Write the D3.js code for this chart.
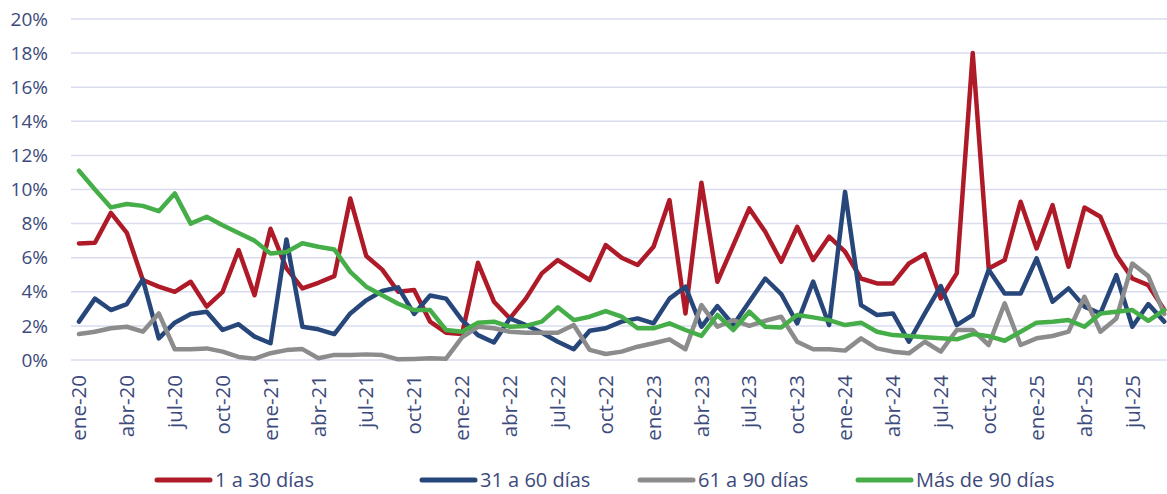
<!DOCTYPE html>
<html>
<head>
<meta charset="utf-8">
<script src="https://cdn.jsdelivr.net/npm/d3@7"></script>
<style>
  body { margin: 0; background: #fff; }
  svg { display: block; font-family: "Open Sans", sans-serif; }
</style>
</head>
<body>
<div id="chart"></div>
<script>
const monthNames = ['ene', 'feb', 'mar', 'abr', 'may', 'jun', 'jul', 'ago', 'sep', 'oct', 'nov', 'dic'];
const years = ['20', '21', '22', '23', '24', '25'];
// ene-20 ... sep-25
const months = [];
years.forEach(y => monthNames.forEach(m => months.push(`${m}-${y}`)));
months.splice(69);

const yTicks = [0, 2, 4, 6, 8, 10, 12, 14, 16, 18, 20];

const seriesNames = ['1 a 30 días', '31 a 60 días', '61 a 90 días', 'Más de 90 días'];
const seriesColors = ['#ae1a28', '#27467a', '#8c8c8c', '#46ae48'];

const d1a30 = [
  6.84, 6.88, 8.63, 7.46, 4.69, 4.3, 4.0, 4.59, 3.13, 4.0, 6.45, 3.8,
  7.7, 5.37, 4.2, 4.53, 4.92, 9.47, 6.1, 5.3, 4.0, 4.1, 2.25, 1.6,
  1.52, 5.7, 3.42, 2.44, 3.6, 5.08, 5.86, 5.27, 4.69, 6.74, 6.0, 5.57,
  6.64, 9.38, 2.73, 10.4, 4.59, 6.74, 8.89, 7.52, 5.76, 7.81, 5.86, 7.23,
  6.35, 4.78, 4.49, 4.49, 5.66, 6.21, 3.61, 5.08, 18.0, 5.37, 5.86, 9.28,
  6.54, 9.08, 5.47, 8.94, 8.4, 6.15, 4.78, 4.39, 2.95
];
const d31a60 = [
  2.25, 3.6, 2.93, 3.28, 4.73, 1.27, 2.19, 2.7, 2.83, 1.76, 2.1, 1.37,
  0.98, 7.07, 1.95, 1.8, 1.52, 2.73, 3.5, 4.05, 4.26, 2.7, 3.78, 3.6,
  2.34, 1.46, 1.03, 2.44, 2.05, 1.6, 1.07, 0.63, 1.72, 1.86, 2.25, 2.44,
  2.15, 3.6, 4.3, 1.95, 3.16, 2.05, 3.42, 4.78, 3.87, 2.15, 4.6, 2.05,
  9.86, 3.22, 2.64, 2.73, 1.07, 2.73, 4.34, 2.05, 2.64, 5.3, 3.9, 3.9,
  5.96, 3.42, 4.2, 3.13, 2.73, 4.98, 1.95, 3.28, 2.25
];
const d61a90 = [
  1.52, 1.66, 1.86, 1.95, 1.66, 2.73, 0.63, 0.63, 0.68, 0.49, 0.18, 0.08,
  0.4, 0.58, 0.64, 0.1, 0.3, 0.29, 0.33, 0.29, 0.04, 0.06, 0.1, 0.08,
  1.33, 1.95, 1.86, 1.66, 1.6, 1.6, 1.6, 2.05, 0.59, 0.35, 0.49, 0.78,
  0.98, 1.21, 0.63, 3.22, 1.95, 2.34, 2.0, 2.3, 2.54, 1.07, 0.63, 0.63,
  0.55, 1.27, 0.68, 0.49, 0.39, 1.07, 0.49, 1.76, 1.76, 0.88, 3.32, 0.88,
  1.27, 1.41, 1.66, 3.71, 1.66, 2.44, 5.66, 4.92, 2.7
];
const dMas90 = [
  11.1, 10.0, 8.95, 9.15, 9.04, 8.73, 9.77, 8.0, 8.4, 7.9, 7.45, 7.0,
  6.25, 6.33, 6.85, 6.64, 6.48, 5.17, 4.3, 3.8, 3.3, 2.93, 2.93, 1.76,
  1.66, 2.19, 2.25, 1.95, 2.0, 2.25, 3.09, 2.34, 2.54, 2.87, 2.55, 1.86,
  1.86, 2.15, 1.76, 1.41, 2.64, 1.76, 2.83, 1.95, 1.91, 2.64, 2.5, 2.34,
  2.05, 2.19, 1.66, 1.46, 1.41, 1.33, 1.27, 1.21, 1.52, 1.4, 1.13, 1.66,
  2.19, 2.25, 2.34, 1.95, 2.73, 2.83, 2.93, 2.3, 2.93
];
const seriesData = [d1a30, d31a60, d61a90, dMas90];

const width = 1167, height = 494;
const plotLeft = 71, plotTop = 19, plotBottom = 360;
const step = 15.96;
const textColor = '#3c4a7c';

const svg = d3.select('#chart').append('svg')
    .attr('width', width)
    .attr('height', height);

const x = d3.scaleBand()
    .domain(months)
    .range([plotLeft, plotLeft + step * months.length])
    .paddingInner(0).paddingOuter(0);
const xc = d => x(d) + x.bandwidth() / 2;

const y = d3.scaleLinear()
    .domain([0, 20])
    .range([plotBottom, plotTop]);

// grid
svg.append('g')
    .selectAll('line')
    .data(yTicks)
    .join('line')
    .attr('x1', plotLeft)
    .attr('x2', x.range()[1])
    .attr('y1', d => y(d))
    .attr('y2', d => y(d))
    .attr('stroke', '#d9dcef')
    .attr('stroke-width', 1.5);

// y labels
svg.append('g')
    .selectAll('text')
    .data(yTicks)
    .join('text')
    .attr('x', 48)
    .attr('y', d => y(d))
    .attr('dy', '0.35em')
    .attr('text-anchor', 'end')
    .attr('fill', textColor)
    .style('font-size', '19px')
    .text(d => d + '%');

// x labels, every 3 months
svg.append('g')
    .selectAll('text')
    .data(months.filter((m, i) => i % 3 === 0))
    .join('text')
    .attr('transform', d => `translate(${xc(d)},${plotBottom + 15})rotate(-90)`)
    .attr('dy', '0.35em')
    .attr('text-anchor', 'end')
    .attr('fill', textColor)
    .style('font-size', '20.5px')
    .text(d => d);

// lines
const line = d3.line()
    .x((d, i) => xc(months[i]))
    .y(d => y(d));

seriesData.forEach((s, k) => {
  svg.append('path')
      .datum(s)
      .attr('fill', 'none')
      .attr('stroke', seriesColors[k])
      .attr('stroke-width', 4.5)
      .attr('stroke-linejoin', 'round')
      .attr('stroke-linecap', 'round')
      .attr('d', line);
});

// legend
const legendX = [157, 422, 640, 858];
const legend = svg.append('g');
seriesNames.forEach((name, k) => {
  legend.append('line')
      .attr('x1', legendX[k]).attr('x2', legendX[k] + 53)
      .attr('y1', 480).attr('y2', 480)
      .attr('stroke', seriesColors[k])
      .attr('stroke-width', 5)
      .attr('stroke-linecap', 'round');
  legend.append('text')
      .attr('x', legendX[k] + 58)
      .attr('y', 480)
      .attr('dy', '0.35em')
      .attr('fill', textColor)
      .style('font-size', '20px')
      .text(name);
});
</script>
</body>
</html>
